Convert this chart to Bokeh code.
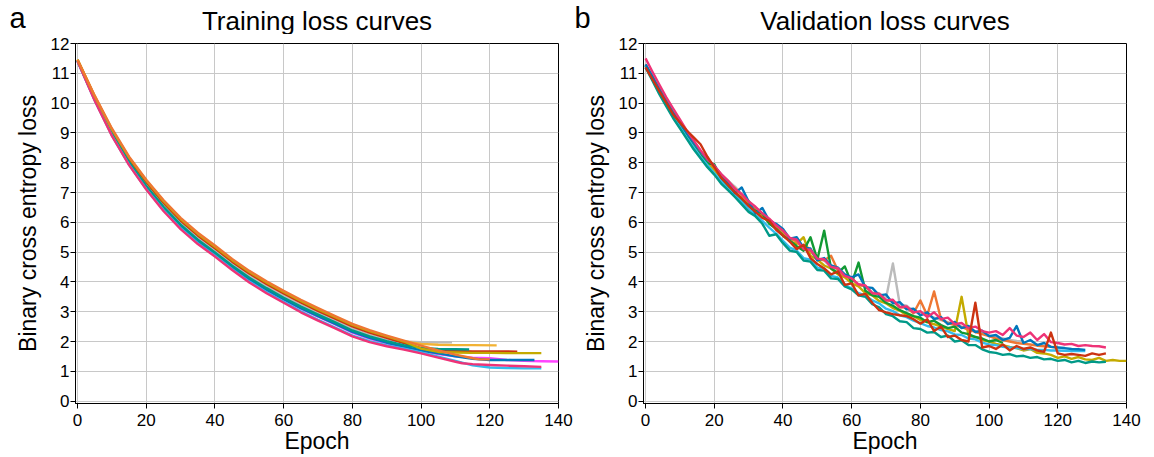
import math
from bokeh.plotting import figure
from bokeh.layouts import row, column
from bokeh.models import Range1d, FixedTicker, Label
from bokeh.embed import file_html
from bokeh.resources import INLINE

FONT = "Liberation Sans"

x_ticks = [0, 20, 40, 60, 80, 100, 120, 140]
y_ticks = [0, 1, 2, 3, 4, 5, 6, 7, 8, 9, 10, 11, 12]

panel_letters = ["a", "b"]
panel_titles = ["Training loss curves", "Validation loss curves"]
x_label = "Epoch"
y_label = "Binary cross entropy loss"

# ---------------- Training loss curves (panel a) ----------------
train_gray_epochs = [0, 5, 10, 15, 20, 25, 30, 35, 40, 45, 50, 55, 60, 65, 70, 75, 80, 85, 90, 95, 100, 105, 109]
train_gray_loss = [11.43, 10.16, 9.02, 8.07, 7.28, 6.58, 5.98, 5.48, 5.05, 4.60, 4.20, 3.85, 3.53, 3.23, 2.96, 2.70,
                   2.44, 2.22, 2.05, 2.00, 1.98, 1.97, 1.97]

train_gold_epochs = [0, 5, 10, 15, 20, 25, 30, 35, 40, 45, 50, 55, 60, 65, 70, 75, 80, 85, 90, 95, 100, 105, 110, 115, 122]
train_gold_loss = [11.45, 10.22, 9.10, 8.15, 7.37, 6.68, 6.08, 5.58, 5.15, 4.70, 4.30, 3.95, 3.63, 3.33, 3.05, 2.79,
                   2.53, 2.32, 2.15, 2.00, 1.92, 1.89, 1.88, 1.88, 1.87]

train_red_epochs = [0, 5, 10, 15, 20, 25, 30, 35, 40, 45, 50, 55, 60, 65, 70, 75, 80, 85, 90, 95, 100, 105, 110, 115, 120, 128]
train_red_loss = [11.44, 10.20, 9.08, 8.13, 7.35, 6.66, 6.06, 5.56, 5.13, 4.68, 4.28, 3.93, 3.61, 3.31, 3.03, 2.77,
                  2.51, 2.30, 2.12, 1.95, 1.78, 1.69, 1.68, 1.67, 1.67, 1.66]

train_olive_epochs = [0, 5, 10, 15, 20, 25, 30, 35, 40, 45, 50, 55, 60, 65, 70, 75, 80, 85, 90, 95, 100, 105, 110, 115,
                      120, 125, 130, 135]
train_olive_loss = [11.46, 10.23, 9.12, 8.17, 7.40, 6.71, 6.11, 5.61, 5.18, 4.73, 4.33, 3.98, 3.66, 3.36, 3.08, 2.82,
                    2.56, 2.35, 2.17, 2.00, 1.76, 1.65, 1.63, 1.62, 1.62, 1.61, 1.61, 1.61]

train_orange_epochs = [0, 5, 10, 15, 20, 25, 30, 35, 40, 45, 50, 55, 60, 65, 70, 75, 80, 85, 90, 95, 100, 105, 110, 115,
                       117, 120]
train_orange_loss = [11.45, 10.25, 9.15, 8.20, 7.43, 6.75, 6.15, 5.65, 5.22, 4.77, 4.37, 4.02, 3.70, 3.40, 3.12, 2.85,
                     2.59, 2.38, 2.20, 2.03, 1.86, 1.70, 1.56, 1.44, 1.40, 1.40]

train_teal_epochs = [0, 5, 10, 15, 20, 25, 30, 35, 40, 45, 50, 55, 60, 65, 70, 75, 80, 85, 90, 95, 100, 105, 110, 114]
train_teal_loss = [11.42, 10.14, 8.98, 8.02, 7.22, 6.52, 5.92, 5.42, 4.99, 4.54, 4.14, 3.79, 3.47, 3.17, 2.90, 2.64,
                   2.37, 2.17, 2.01, 1.88, 1.78, 1.75, 1.74, 1.73]

train_blue_epochs = [0, 5, 10, 15, 20, 25, 30, 35, 40, 45, 50, 55, 60, 65, 70, 75, 80, 85, 90, 95, 100, 105, 110, 115,
                     120, 125, 133]
train_blue_loss = [11.41, 10.12, 8.95, 7.98, 7.18, 6.47, 5.87, 5.37, 4.94, 4.49, 4.09, 3.74, 3.42, 3.12, 2.85, 2.59,
                   2.32, 2.12, 1.96, 1.83, 1.70, 1.60, 1.50, 1.42, 1.38, 1.38, 1.38]

train_magenta_epochs = [0, 5, 10, 15, 20, 25, 30, 35, 40, 45, 50, 55, 60, 65, 70, 75, 80, 85, 90, 95, 100, 105, 110,
                        115, 120, 125, 130, 135, 140]
train_magenta_loss = [11.41, 10.11, 8.94, 7.96, 7.16, 6.45, 5.85, 5.35, 4.92, 4.47, 4.07, 3.72, 3.40, 3.10, 2.83, 2.57,
                      2.30, 2.10, 1.94, 1.81, 1.68, 1.58, 1.50, 1.46, 1.44, 1.38, 1.35, 1.34, 1.33]

train_cyan_epochs = [0, 5, 10, 15, 20, 25, 30, 35, 40, 45, 50, 55, 60, 65, 70, 75, 80, 85, 90, 95, 100, 105, 110, 115,
                     120, 125, 130, 135]
train_cyan_loss = [11.40, 10.09, 8.91, 7.93, 7.12, 6.41, 5.80, 5.30, 4.88, 4.43, 4.01, 3.65, 3.33, 3.01, 2.73, 2.47,
                   2.20, 2.01, 1.87, 1.76, 1.63, 1.49, 1.35, 1.20, 1.13, 1.11, 1.10, 1.10]

train_pink_epochs = [0, 5, 10, 15, 20, 25, 30, 35, 40, 45, 50, 55, 60, 65, 70, 75, 80, 85, 90, 95, 100, 105, 110, 112,
                     115, 120, 125, 130, 135]
train_pink_loss = [11.40, 10.08, 8.90, 7.92, 7.10, 6.38, 5.77, 5.27, 4.85, 4.40, 3.98, 3.62, 3.30, 2.98, 2.70, 2.44,
                   2.17, 1.98, 1.84, 1.73, 1.60, 1.46, 1.32, 1.27, 1.24, 1.21, 1.19, 1.17, 1.15]

# ---------------- Validation loss curves (panel b), every 2 epochs ----------------
val_epochs = [0, 2, 4, 6, 8, 10, 12, 14, 16, 18, 20, 22, 24, 26, 28, 30, 32, 34, 36, 38, 40, 42, 44, 46, 48, 50, 52,
              54, 56, 58, 60, 62, 64, 66, 68, 70, 72, 74, 76, 78, 80, 82, 84, 86, 88, 90, 92, 94, 96, 98, 100, 102,
              104, 106, 108, 110, 112, 114, 116, 118, 120, 122, 124, 126, 128, 130, 132, 134, 136, 138, 140]

val_gray_loss = [11.30, 10.88, 10.45, 10.05, 9.68, 9.30, 8.96, 8.64, 8.35, 8.08,
                 7.85, 7.62, 7.40, 7.20, 6.95, 6.72, 6.50, 6.30, 6.10, 5.90,
                 5.70, 5.45, 5.38, 5.10, 5.02, 4.78, 4.72, 4.48, 4.42, 4.18,
                 4.12, 3.90, 3.86, 3.65, 3.62, 3.45, 4.62, 3.25, 3.20, 3.00,
                 2.95, 2.88, 2.80, 2.72, 2.65, 2.58, 2.50, 2.42, 2.35, 2.28,
                 2.20, 2.15, 2.10, 2.05, 2.02, 2.00]

val_olive_loss = [11.25, 10.80, 10.38, 9.98, 9.60, 9.25, 8.90, 8.58, 8.28, 8.00,
                  7.75, 7.50, 7.25, 7.02, 6.80, 6.60, 6.40, 6.20, 6.00, 5.80,
                  5.60, 5.35, 5.28, 5.50, 4.88, 4.75, 4.55, 4.45, 4.25, 4.15,
                  3.95, 3.85, 3.62, 3.55, 3.36, 3.28, 3.12, 3.04, 2.88, 2.85,
                  2.72, 2.65, 2.58, 2.50, 2.42, 2.35, 3.50, 2.20, 2.15, 2.05,
                  2.00, 1.92, 1.88, 1.82, 1.78, 1.70, 1.75, 1.62, 1.60, 1.55,
                  1.45, 1.50, 1.42, 1.48, 1.40, 1.38, 1.45, 1.35, 1.38, 1.35, 1.35]

val_orange_loss = [11.30, 10.88, 10.45, 10.05, 9.68, 9.32, 8.98, 8.65, 8.35, 8.05,
                   7.85, 7.60, 7.35, 7.15, 6.90, 6.70, 6.48, 6.28, 6.08, 5.90,
                   5.70, 5.45, 5.36, 5.10, 5.05, 4.78, 4.72, 4.88, 4.38, 4.20,
                   4.12, 3.90, 3.85, 3.62, 3.60, 3.38, 3.35, 3.15, 3.14, 2.95,
                   3.38, 2.88, 3.68, 2.75, 2.62, 2.55, 2.48, 2.40, 2.32, 2.25,
                   2.18, 2.10, 2.05, 2.00, 1.95, 1.92, 1.90, 1.86, 1.84, 1.82,
                   1.80]

val_green_loss = [11.25, 10.82, 10.40, 10.00, 9.60, 9.22, 8.88, 8.55, 8.25, 7.98,
                  7.95, 7.45, 7.22, 7.00, 6.75, 6.55, 6.38, 6.30, 5.95, 5.78,
                  5.55, 5.38, 5.20, 5.05, 5.50, 4.75, 5.72, 4.45, 4.30, 4.52,
                  3.95, 4.65, 3.70, 3.55, 3.50, 3.30, 3.20, 3.05, 2.95, 2.85,
                  2.80, 2.65, 2.70, 2.55, 2.45, 2.50, 2.30, 2.25, 2.15, 2.10,
                  2.00, 2.05, 1.95]

val_cyan_loss = [11.25, 10.80, 10.36, 9.95, 9.55, 9.20, 8.85, 8.52, 8.20, 7.92,
                 7.65, 7.38, 7.12, 6.90, 6.68, 6.45, 6.25, 6.05, 5.82, 5.62,
                 5.38, 5.15, 5.05, 4.80, 4.75, 4.48, 4.45, 4.20, 4.15, 3.90,
                 3.78, 3.62, 3.55, 3.38, 3.28, 3.10, 3.02, 2.88, 2.82, 2.70,
                 2.62, 2.52, 2.47, 2.38, 2.34, 2.24, 2.22, 2.10, 2.07, 1.96,
                 1.90, 1.88, 1.82, 1.80, 1.78, 1.75, 1.75, 1.72, 1.72, 1.70,
                 1.70, 1.69, 1.68, 1.68, 1.68]

val_teal_loss = [11.20, 10.75, 10.30, 9.90, 9.50, 9.15, 8.80, 8.45, 8.15, 7.85,
                 7.60, 7.30, 7.08, 6.85, 6.60, 6.35, 6.20, 5.95, 5.55, 5.60,
                 5.30, 5.05, 5.00, 4.72, 4.68, 4.40, 4.38, 4.12, 4.10, 3.85,
                 3.75, 3.55, 3.50, 3.25, 3.15, 2.92, 2.85, 2.68, 2.65, 2.45,
                 2.42, 2.30, 2.32, 2.15, 2.20, 2.00, 2.04, 1.88, 1.88, 1.74,
                 1.65, 1.62, 1.55, 1.58, 1.50, 1.52, 1.45, 1.48, 1.40, 1.42,
                 1.35, 1.38, 1.30, 1.35, 1.28, 1.33, 1.30, 1.32]

val_blue_loss = [11.30, 10.90, 10.48, 10.08, 9.70, 9.35, 9.00, 8.68, 8.38, 8.10,
                 7.90, 7.60, 7.35, 6.98, 7.17, 6.70, 6.30, 6.48, 6.05, 5.95,
                 5.78, 5.45, 5.50, 5.15, 5.12, 4.72, 4.80, 4.55, 4.48, 4.25,
                 4.15, 4.25, 3.82, 3.80, 3.55, 3.58, 3.28, 3.32, 3.08, 3.10,
                 2.88, 2.98, 2.75, 2.82, 2.58, 2.66, 2.45, 2.52, 2.32, 2.36,
                 2.18, 2.22, 2.05, 2.12, 2.52, 1.95, 2.05, 1.88, 1.95, 1.82,
                 1.80, 1.78, 1.75, 1.74, 1.72]

val_pink_loss = [11.50, 11.05, 10.62, 10.20, 9.82, 9.45, 9.08, 8.75, 8.42, 8.12,
                 7.90, 7.62, 7.40, 7.12, 6.95, 6.70, 6.52, 6.30, 6.12, 5.90,
                 5.72, 5.48, 5.42, 5.10, 5.08, 4.78, 4.76, 4.50, 4.46, 4.20,
                 4.12, 3.92, 3.88, 3.62, 3.60, 3.38, 3.40, 3.15, 3.18, 2.98,
                 3.02, 2.82, 2.98, 2.75, 2.80, 2.58, 2.62, 2.45, 2.50, 2.35,
                 2.30, 2.35, 2.22, 2.45, 2.20, 2.15, 2.30, 2.05, 2.25, 1.98,
                 1.95, 1.90, 1.92, 1.85, 1.88, 1.85, 1.84, 1.80]

val_red_loss = [11.20, 10.80, 10.40, 10.02, 9.62, 9.35, 9.08, 8.85, 8.62, 8.20,
                7.85, 7.50, 7.25, 7.00, 6.80, 6.55, 6.35, 6.15, 6.05, 5.75,
                5.55, 5.35, 5.10, 5.25, 4.80, 4.60, 4.45, 4.25, 4.35, 3.90,
                3.95, 3.55, 3.60, 3.30, 3.05, 2.98, 2.92, 2.88, 2.85, 2.75,
                2.60, 2.75, 2.35, 2.50, 2.15, 2.20, 2.05, 2.00, 3.30, 1.80,
                1.85, 1.75, 1.90, 1.70, 1.85, 1.75, 1.80, 1.70, 1.65, 2.30,
                1.60, 1.55, 1.58, 1.55, 1.52, 1.60, 1.55, 1.60]

COLORS = {
    "gray": "#BBBBBB", "gold": "#F2B233", "red": "#CC3311", "olive": "#C4AA00",
    "orange": "#EE7733", "teal": "#009988", "blue": "#0077BB", "magenta": "#FF44FF",
    "cyan": "#33BBEE", "pink": "#EE3377", "green": "#119933",
}

FRAME_W, FRAME_H = 483, 360
STRIP_H = 34
TOP_BORDER = 43 - STRIP_H
W_A, W_B = 577, 570
LW = 2.4


def make_panel(border_left, border_right):
    p = figure(frame_width=FRAME_W, frame_height=FRAME_H, title=None,
               x_range=Range1d(-0.6, 140), y_range=Range1d(-0.08, 12),
               output_backend="svg", toolbar_location=None,
               min_border_left=border_left, min_border_right=border_right,
               min_border_top=TOP_BORDER, min_border_bottom=54,
               background_fill_color="white", border_fill_color="white")
    p.outline_line_color = "black"
    p.outline_line_width = 1
    p.xaxis.ticker = FixedTicker(ticks=x_ticks)
    p.yaxis.ticker = FixedTicker(ticks=y_ticks)
    for ax in (p.xaxis[0], p.yaxis[0]):
        ax.axis_line_color = "black"
        ax.axis_line_width = 1
        ax.major_tick_line_color = "black"
        ax.major_tick_out = 5
        ax.major_tick_in = 0
        ax.minor_tick_line_color = None
        ax.major_label_text_font = FONT
        ax.major_label_text_font_size = "17px"
        ax.major_label_text_color = "black"
        ax.axis_label_text_font = FONT
        ax.axis_label_text_font_size = "23px"
        ax.axis_label_text_font_style = "normal"
        ax.axis_label_text_color = "black"
    p.xaxis.major_label_standoff = 5
    p.yaxis.major_label_standoff = 1
    p.xaxis.axis_label = x_label
    p.xaxis.axis_label_standoff = -1
    p.yaxis.axis_label = y_label
    p.yaxis.axis_label_standoff = 7
    for g in (p.xgrid[0], p.ygrid[0]):
        g.grid_line_color = "#c8c8c8"
        g.grid_line_width = 1
    return p


# header strip holding panel letters and titles
strip = figure(width=W_A + W_B, height=STRIP_H, title=None,
               x_range=Range1d(0, W_A + W_B), y_range=Range1d(0, STRIP_H),
               x_axis_type=None, y_axis_type=None, output_backend="svg",
               toolbar_location=None, min_border=0,
               background_fill_color="white", border_fill_color="white")
strip.outline_line_color = None
strip.grid.visible = False
letter_x = [9, 574]
title_cx = [316.5, 884.5]
for lx, letter in zip(letter_x, panel_letters):
    strip.add_layout(Label(x=lx, y=STRIP_H - 17, text=letter, text_align="left", text_baseline="middle",
                           text_font=FONT, text_font_size="29px", text_color="black"))
for cx, t in zip(title_cx, panel_titles):
    strip.add_layout(Label(x=cx, y=STRIP_H - 20, text=t, text_align="center", text_baseline="middle",
                           text_font=FONT, text_font_size="26px", text_color="black"))

pa = make_panel(75, W_A - 75 - FRAME_W)
train_series = [
    (train_gray_epochs, train_gray_loss, "gray"),
    (train_gold_epochs, train_gold_loss, "gold"),
    (train_red_epochs, train_red_loss, "red"),
    (train_magenta_epochs, train_magenta_loss, "magenta"),
    (train_blue_epochs, train_blue_loss, "blue"),
    (train_teal_epochs, train_teal_loss, "teal"),
    (train_cyan_epochs, train_cyan_loss, "cyan"),
    (train_pink_epochs, train_pink_loss, "pink"),
    (train_olive_epochs, train_olive_loss, "olive"),
    (train_orange_epochs, train_orange_loss, "orange"),
]
for xs, ys, c in train_series:
    pa.line(xs, ys, line_color=COLORS[c], line_width=LW, line_join="round")

pb = make_panel(643 - W_A, W_B - (643 - W_A) - FRAME_W)
val_series = [
    (val_gray_loss, "gray"),
    (val_olive_loss, "olive"),
    (val_orange_loss, "orange"),
    (val_green_loss, "green"),
    (val_cyan_loss, "cyan"),
    (val_teal_loss, "teal"),
    (val_blue_loss, "blue"),
    (val_pink_loss, "pink"),
    (val_red_loss, "red"),
]
for ys, c in val_series:
    pb.line(val_epochs[:len(ys)], ys, line_color=COLORS[c], line_width=LW, line_join="round")

layout = column(strip, row(pa, pb, spacing=0), spacing=0)
open("out.html", "w").write(file_html(layout, INLINE))
